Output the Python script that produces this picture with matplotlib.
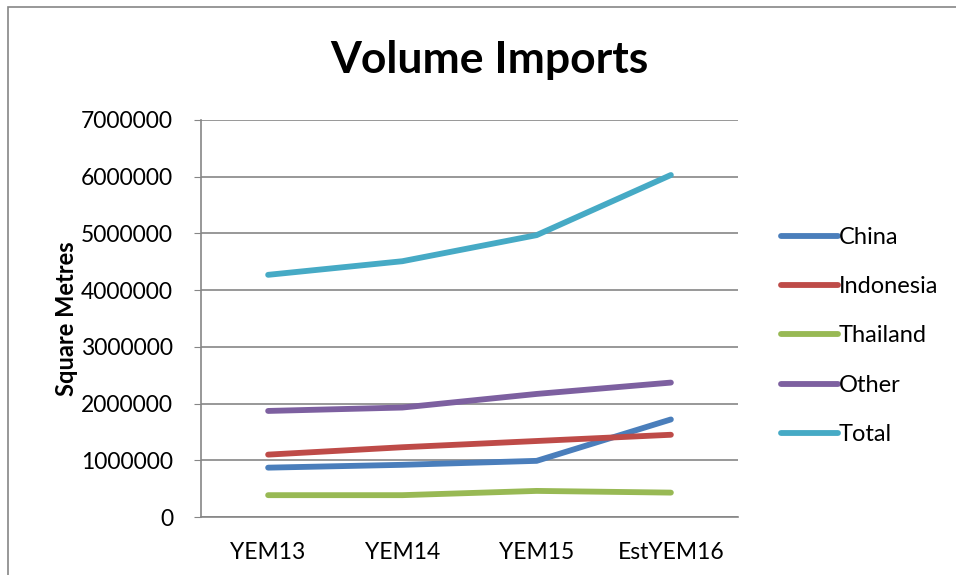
import matplotlib.pyplot as plt
from matplotlib.patches import Rectangle

plt.rcParams["font.family"] = ["Lato", "DejaVu Sans"]

categories = ["YEM13", "YEM14", "YEM15", "EstYEM16"]
china = [870000, 920000, 990000, 1720000]
indonesia = [1100000, 1230000, 1340000, 1450000]
thailand = [385000, 385000, 460000, 430000]
other = [1870000, 1930000, 2170000, 2370000]
total = [4270000, 4510000, 4970000, 6030000]

series = [
    ("China", china, "#4a7ebb"),
    ("Indonesia", indonesia, "#be4b48"),
    ("Thailand", thailand, "#98b954"),
    ("Other", other, "#7d60a0"),
    ("Total", total, "#46aac5"),
]

fig = plt.figure(figsize=(9.56, 5.75), dpi=100)
ax = fig.add_axes([201 / 956, 1 - 517 / 575, 537 / 956, 397 / 575])

x = range(len(categories))
for name, vals, color in series:
    ax.plot(x, vals, color=color, linewidth=4.2, solid_capstyle="round",
            solid_joinstyle="round", label=name)

ax.set_xlim(-0.5, 3.5)
ax.set_ylim(0, 7000000)
ax.set_yticks(range(0, 7000001, 1000000))
ax.set_yticklabels([str(v) for v in range(0, 7000001, 1000000)], fontsize=16.5)
ax.set_xticks(list(x))
ax.set_xticklabels(categories, fontsize=16.5)
ax.yaxis.grid(True, color="#868686", linewidth=1.2)
ax.set_axisbelow(True)
for side in ["top", "right"]:
    ax.spines[side].set_visible(False)
for side in ["left", "bottom"]:
    ax.spines[side].set_color("#868686")
    ax.spines[side].set_linewidth(1.2)
ax.tick_params(axis="y", length=5, color="#868686", pad=15)
ax.tick_params(axis="x", length=0, pad=18)
ax.set_ylabel("Square Metres", fontsize=17, fontweight="bold", labelpad=2)

fig.text(489 / 956, 1 - 60 / 575, "Volume Imports", ha="center", va="center",
         fontsize=32, fontweight="bold")

fig.legend(loc="center left", bbox_to_anchor=(760 / 956, 1 - 336 / 575),
           frameon=False, fontsize=17, handlelength=2.4, handletextpad=0.05,
           labelspacing=1.2)

fig.add_artist(Rectangle((8 / 956, -0.01), 1.0, 1 - 7 / 575 + 0.01,
                         transform=fig.transFigure, fill=False,
                         edgecolor="#868686", linewidth=1.2))

fig.savefig("out.png", dpi=100)
